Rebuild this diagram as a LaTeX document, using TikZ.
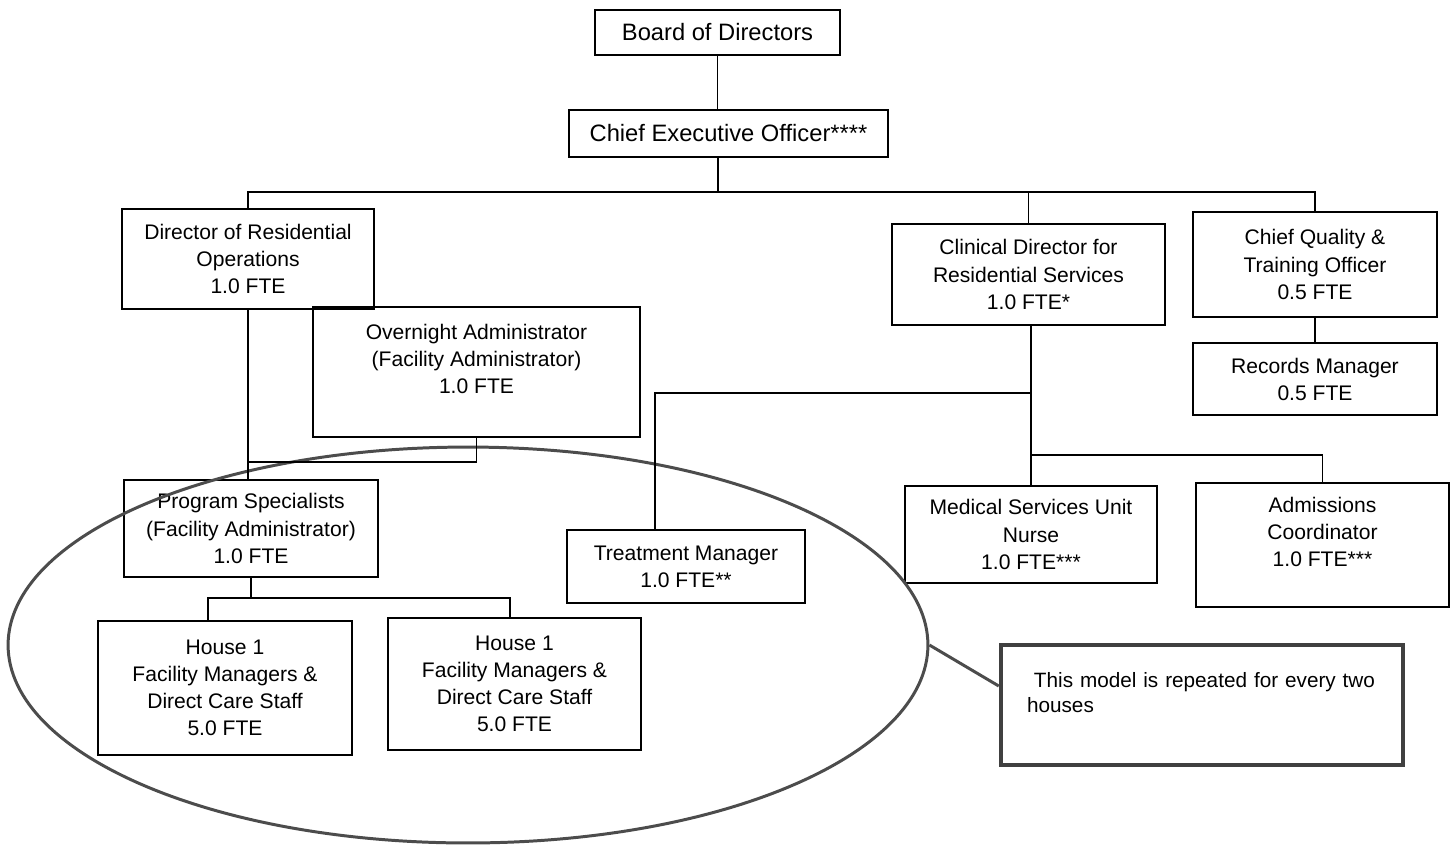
\documentclass[tikz,border=0pt]{standalone}
\usepackage{fontspec}
\setmainfont{Liberation Sans}
\usepackage{tikz}
\usetikzlibrary{shapes.geometric}

\begin{document}
\begin{tikzpicture}[x=0.02cm, y=-0.02cm, line width=0.8pt,
        box/.style={draw, rectangle, align=center, inner sep=2pt,
        font=\fontsize{12}{15.4}\selectfont},
        topbox/.style={box, font=\fontsize{13.5}{16}\selectfont},
        ring/.style={draw=black!70, line width=1.7pt},
        notebox/.style={draw=black!75, line width=2.6pt, align=left,
        text width=7cm, inner xsep=0.52cm, font=\fontsize{11.8}{14.5}\selectfont}]
        \useasboundingbox (0,0) rectangle (1453,846);

        \node[topbox, minimum width=4.9cm, minimum height=0.9cm] (board) at (717.5,32.5) {Board of Directors};
        \node[topbox, minimum width=6.38cm, minimum height=0.94cm] (ceo) at (728.5,133.5) {Chief Executive Officer****};
        \node[box, minimum width=5.04cm, minimum height=2cm] (dro) at (248,259) {Director of Residential\\Operations\\1.0 FTE};
        \node[box, minimum width=6.54cm, minimum height=2.6cm] (on) at (476.5,372) {Overnight Administrator\\(Facility Administrator)\\1.0 FTE\\\mbox{}};
        \node[box, minimum width=5.46cm, minimum height=2.02cm] (cd) at (1028.5,274.5) {Clinical Director for\\Residential Services\\1.0 FTE*};
        \node[box, minimum width=4.88cm, minimum height=2.1cm] (cq) at (1315,264.5) {Chief Quality \&\\Training Officer\\0.5 FTE};
        \node[box, minimum width=4.88cm, minimum height=1.44cm] (rm) at (1315,379) {Records Manager\\0.5 FTE};
        \node[box, minimum width=5.08cm, minimum height=1.94cm] (ps) at (251,528.5) {Program Specialists\\(Facility Administrator)\\1.0 FTE};
        \node[box, minimum width=4.76cm, minimum height=1.46cm] (tm) at (686,566.5) {Treatment Manager\\1.0 FTE**};
        \node[box, minimum width=5.04cm, minimum height=1.94cm] (ms) at (1031,534.5) {Medical Services Unit\\Nurse\\1.0 FTE***};
        \node[box, minimum width=5.06cm, minimum height=2.48cm] (ac) at (1322.5,545) {Admissions\\Coordinator\\1.0 FTE***\\\mbox{}};
        \node[box, minimum width=5.08cm, minimum height=2.68cm] (ha) at (225,688) {House 1\\Facility Managers \&\\Direct Care Staff\\5.0 FTE};
        \node[box, minimum width=5.06cm, minimum height=2.64cm] (hb) at (514.5,684) {House 1\\Facility Managers \&\\Direct Care Staff\\5.0 FTE};
        \node[notebox, minimum width=8.04cm, minimum height=2.4cm] (note) at (1202,705) {\ This model is repeated for every two\\houses\\\mbox{}};
        \node[ring, ellipse, minimum width=18.4cm, minimum height=7.92cm] (grp) at (468,645) {};

        \coordinate (top) at (718,192);
        \coordinate (onj) at (248,462);
        \coordinate (tmj) at (655,393);
        \coordinate (msj) at (1031,455);
        \coordinate (ha1) at (208,598);
        \coordinate (hb1) at (510,598);

        \draw (board.south) -- (board.south |- ceo.north);
        \draw (ceo.south -| top) -- (top);
        \draw (dro.north) |- (top) -| (cq.north);
        \draw (cd.north) -- (cd.north |- top);
        \draw (cq.south) -- (rm.north);
        \draw (dro.south) -- (dro.south |- ps.north);
        \draw (on.south) |- (onj);
        \draw (cd.south -| ms.north) -- (ms.north);
        \draw (tmj -| ms.north) -- (tmj) -- (tm.north -| tmj);
        \draw (msj) -| (ac.north);
        \draw (ps.south) -- (ps.south |- ha1);
        \draw (ha.north -| ha1) |- (hb1) -- (hb.north -| hb1);
        \draw[ring] (grp.east) -- ([yshift=0.38cm]note.west);
    \end{tikzpicture}
\end{document}
